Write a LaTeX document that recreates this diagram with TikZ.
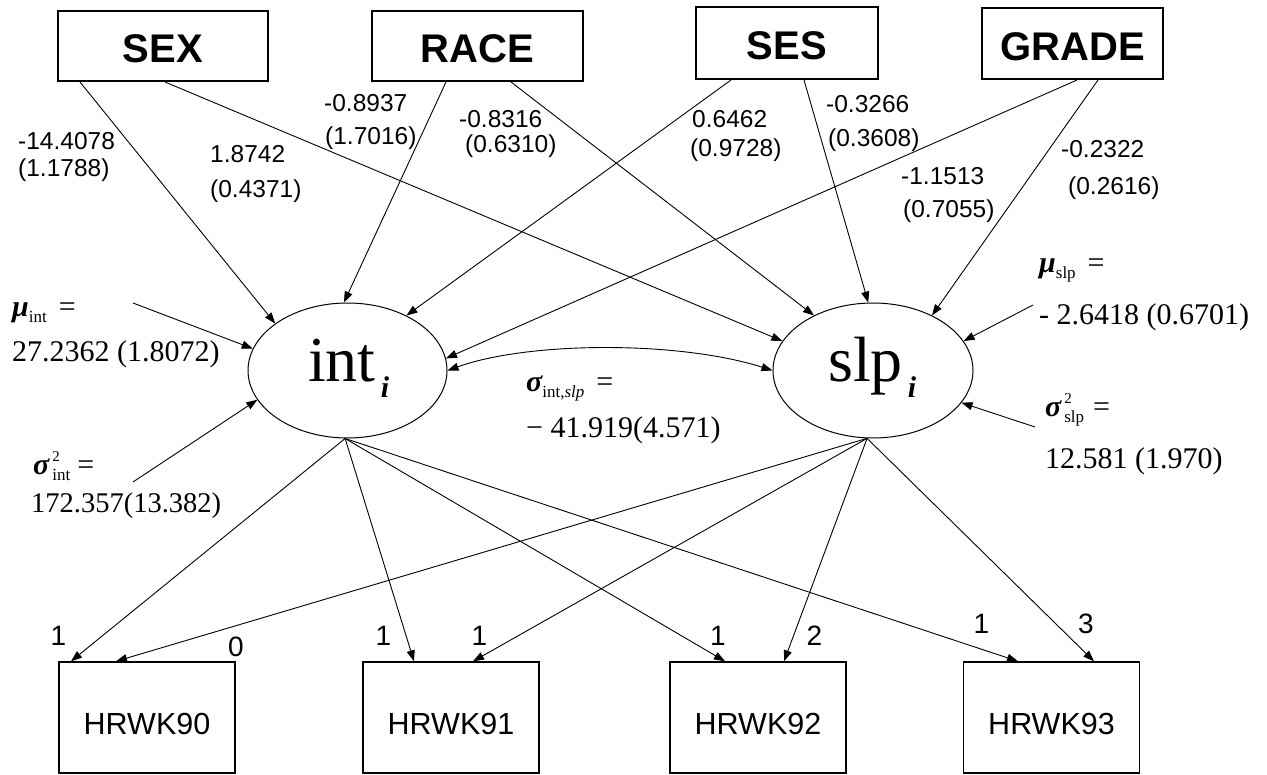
\documentclass[tikz,border=0pt]{standalone}
\usepackage{fontspec}
\setmainfont{Liberation Serif}
\setsansfont{Liberation Sans}
\usetikzlibrary{arrows.meta,shapes.geometric}
\newcommand\fs[1]{\fontsize{#1}{#1}\selectfont}
% superscript stacked over a subscript, for the variance labels
\newcommand\supsub[2]{\hspace{3pt}\makebox[0pt][l]{\raisebox{13pt}{\fs{15}#1}}\raisebox{-6pt}{\fs{17}#2}}
\begin{document}
\begin{tikzpicture}[x=1pt,y=-1pt,
  topbox/.style={draw, line width=2pt, inner sep=0pt, text height=34pt, text depth=0pt,
                 font=\sffamily\bfseries\fs{40}},
  obsbox/.style={draw, line width=1.4pt, inner sep=0pt, minimum width=176pt, minimum height=111pt,
                 text height=33pt, text depth=0pt, font=\sffamily\fs{30.5}},
  latent/.style={draw, ellipse, line width=1pt, inner sep=0pt, minimum width=199pt, minimum height=135pt},
  coef/.style={anchor=base west, inner sep=0pt, font=\sffamily\fs{24.5}},
  loadlbl/.style={anchor=base, inner sep=0pt, font=\sffamily\fs{28}},
  est/.style={anchor=base west, inner sep=0pt, font=\rmfamily\fs{30}},
  latlbl/.style={anchor=base west, inner sep=0pt, font=\rmfamily\fs{64}},
  arr/.style={-{Triangle[length=11pt,width=8pt]}, line width=0.9pt},
  covarr/.style={{Triangle[length=11pt,width=8pt]}-{Triangle[length=11pt,width=8pt]}, line width=0.9pt},
]
\fill[white] (0,0) rectangle (1267,775);
\useasboundingbox (0,0) rectangle (1267,775);

% covariates
\node[topbox, minimum width=210pt, minimum height=70pt] (sex) at (163,46) {SEX};
\node[topbox, minimum width=211pt, minimum height=70pt] (race) at (477.5,46) {RACE};
\node[topbox, minimum width=182.5pt, minimum height=72pt] (ses) at (786.75,43) {SES};
\node[topbox, minimum width=181pt, minimum height=71pt] (grade) at (1072.5,43.5) {GRADE};

% growth factors
\node[latent] (int) at (347.5,370.5) {};
\node[latent, minimum width=200pt] (slp) at (873,370.5) {};
\node[latlbl] (intlbl) at (308,382) {int\hspace{5pt}\raisebox{-16pt}{\fs{30}\bfseries\itshape i}};
\node[latlbl] (slplbl) at (828,382) {slp\hspace{5pt}\raisebox{-16pt}{\fs{30}\bfseries\itshape i}};

% repeated measures
\node[obsbox] (h90) at (147,717.5) {HRWK90};
\node[obsbox] (h91) at (451,717.5) {HRWK91};
\node[obsbox] (h92) at (758,717.5) {HRWK92};
\node[obsbox] (h93) at (1051.5,717.5) {HRWK93};

% covariate effects
\draw[arr] ([xshift=-83pt]sex.south) -- (int.147.2);
\draw[arr] ([xshift=2pt]sex.south) -- (slp.162.6);
\draw[arr] ([xshift=-31.5pt]race.south) -- (int.93.8);
\draw[arr] ([xshift=33.5pt]race.south) -- (slp.137.2);
\draw[arr] ([xshift=-55.75pt]ses.south) -- (int.43.5);
\draw[arr] ([xshift=17.25pt]ses.south) -- (slp.94.9);
\draw[arr] ([xshift=4.5pt]grade.south) -- (int.7);
\draw[arr] ([xshift=25.5pt]grade.south) -- (slp.43.8);

\node[coef] (c1a) at (18,150) {-14.4078};
\node[coef] (c1b) at (18,177) {(1.1788)};
\node[coef] (c2a) at (210,163) {1.8742};
\node[coef] (c2b) at (210,198) {(0.4371)};
\node[coef] (c3a) at (324,112) {-0.8937};
\node[coef] (c3b) at (325,145) {(1.7016)};
\node[coef] (c4a) at (459,128) {-0.8316};
\node[coef] (c4b) at (465,153) {(0.6310)};
\node[coef] (c5a) at (692,128) {0.6462};
\node[coef] (c5b) at (690,157) {(0.9728)};
\node[coef] (c6a) at (826,113) {-0.3266};
\node[coef] (c6b) at (828,147) {(0.3608)};
\node[coef] (c7a) at (901,185) {-1.1513};
\node[coef] (c7b) at (903,218) {(0.7055)};
\node[coef] (c8a) at (1061,158) {-0.2322};
\node[coef] (c8b) at (1068,195) {(0.2616)};

% means and variances of the growth factors
\coordinate (muintT) at (133,303);
\coordinate (sdintT) at (133,482);
\coordinate (muslpT) at (1033,305);
\coordinate (sdslpT) at (1035,427);
\draw[arr] (muintT) -- (int.167.4);
\draw[arr] (sdintT) -- (int.198.6);
\draw[arr] (muslpT) -- (slp.18.5);
\draw[arr] (sdslpT) -- (slp.-20);
\draw[covarr] (int.0) .. controls (530,341) and (680,341) .. (slp.180);

\node[est] (muint) at (12,317) {{\bfseries\itshape μ}\raisebox{-6pt}{\fs{17}int}\hspace{12pt}=};
\node[est] (muintv) at (12,362) {27.2362 (1.8072)};
\node[est] (sdint) at (33,475) {{\bfseries\itshape σ}\supsub{2}{int}\hspace{7pt}=};
\node[est, font=\rmfamily\fs{28.5}] (sdintv) at (31,512) {172.357(13.382)};
\node[est] (cov) at (526,392) {{\bfseries\itshape σ}\raisebox{-6pt}{\fs{17}int,\textit{slp}}\hspace{12pt}=};
\node[est] (covv) at (526,438) {− 41.919(4.571)};
\node[est] (muslp) at (1039,273) {{\bfseries\itshape μ}\raisebox{-6pt}{\fs{17}slp}\hspace{12pt}=};
\node[est] (muslpv) at (1039,325) {- 2.6418 (0.6701)};
\node[est] (sdslp) at (1045,417) {{\bfseries\itshape σ}\supsub{2}{slp}\hspace{9pt}=};
\node[est] (sdslpv) at (1045,468) {12.581 (1.970)};

% factor loadings
\draw[arr] (int.268) -- ([xshift=-76pt]h90.north);
\draw[arr] (slp.265) -- ([xshift=-31pt]h90.north);
\draw[arr] (int.268) -- ([xshift=-37pt]h91.north);
\draw[arr] (slp.265) -- ([xshift=22pt]h91.north);
\draw[arr] (int.268) -- ([xshift=-33pt]h92.north);
\draw[arr] (slp.265) -- ([xshift=26pt]h92.north);
\draw[arr] (int.268) -- ([xshift=-33.5pt]h93.north);
\draw[arr] (slp.265) -- ([xshift=42.5pt]h93.north);

\node[loadlbl] (l0i) at (58.5,645) {1};
\node[loadlbl] (l0s) at (236,656) {0};
\node[loadlbl] (l1i) at (383.5,645) {1};
\node[loadlbl] (l1s) at (479.5,645) {1};
\node[loadlbl] (l2i) at (718,645) {1};
\node[loadlbl] (l2s) at (814.5,645) {2};
\node[loadlbl] (l3i) at (981.5,633) {1};
\node[loadlbl] (l3s) at (1086,633) {3};
\end{tikzpicture}
\end{document}
